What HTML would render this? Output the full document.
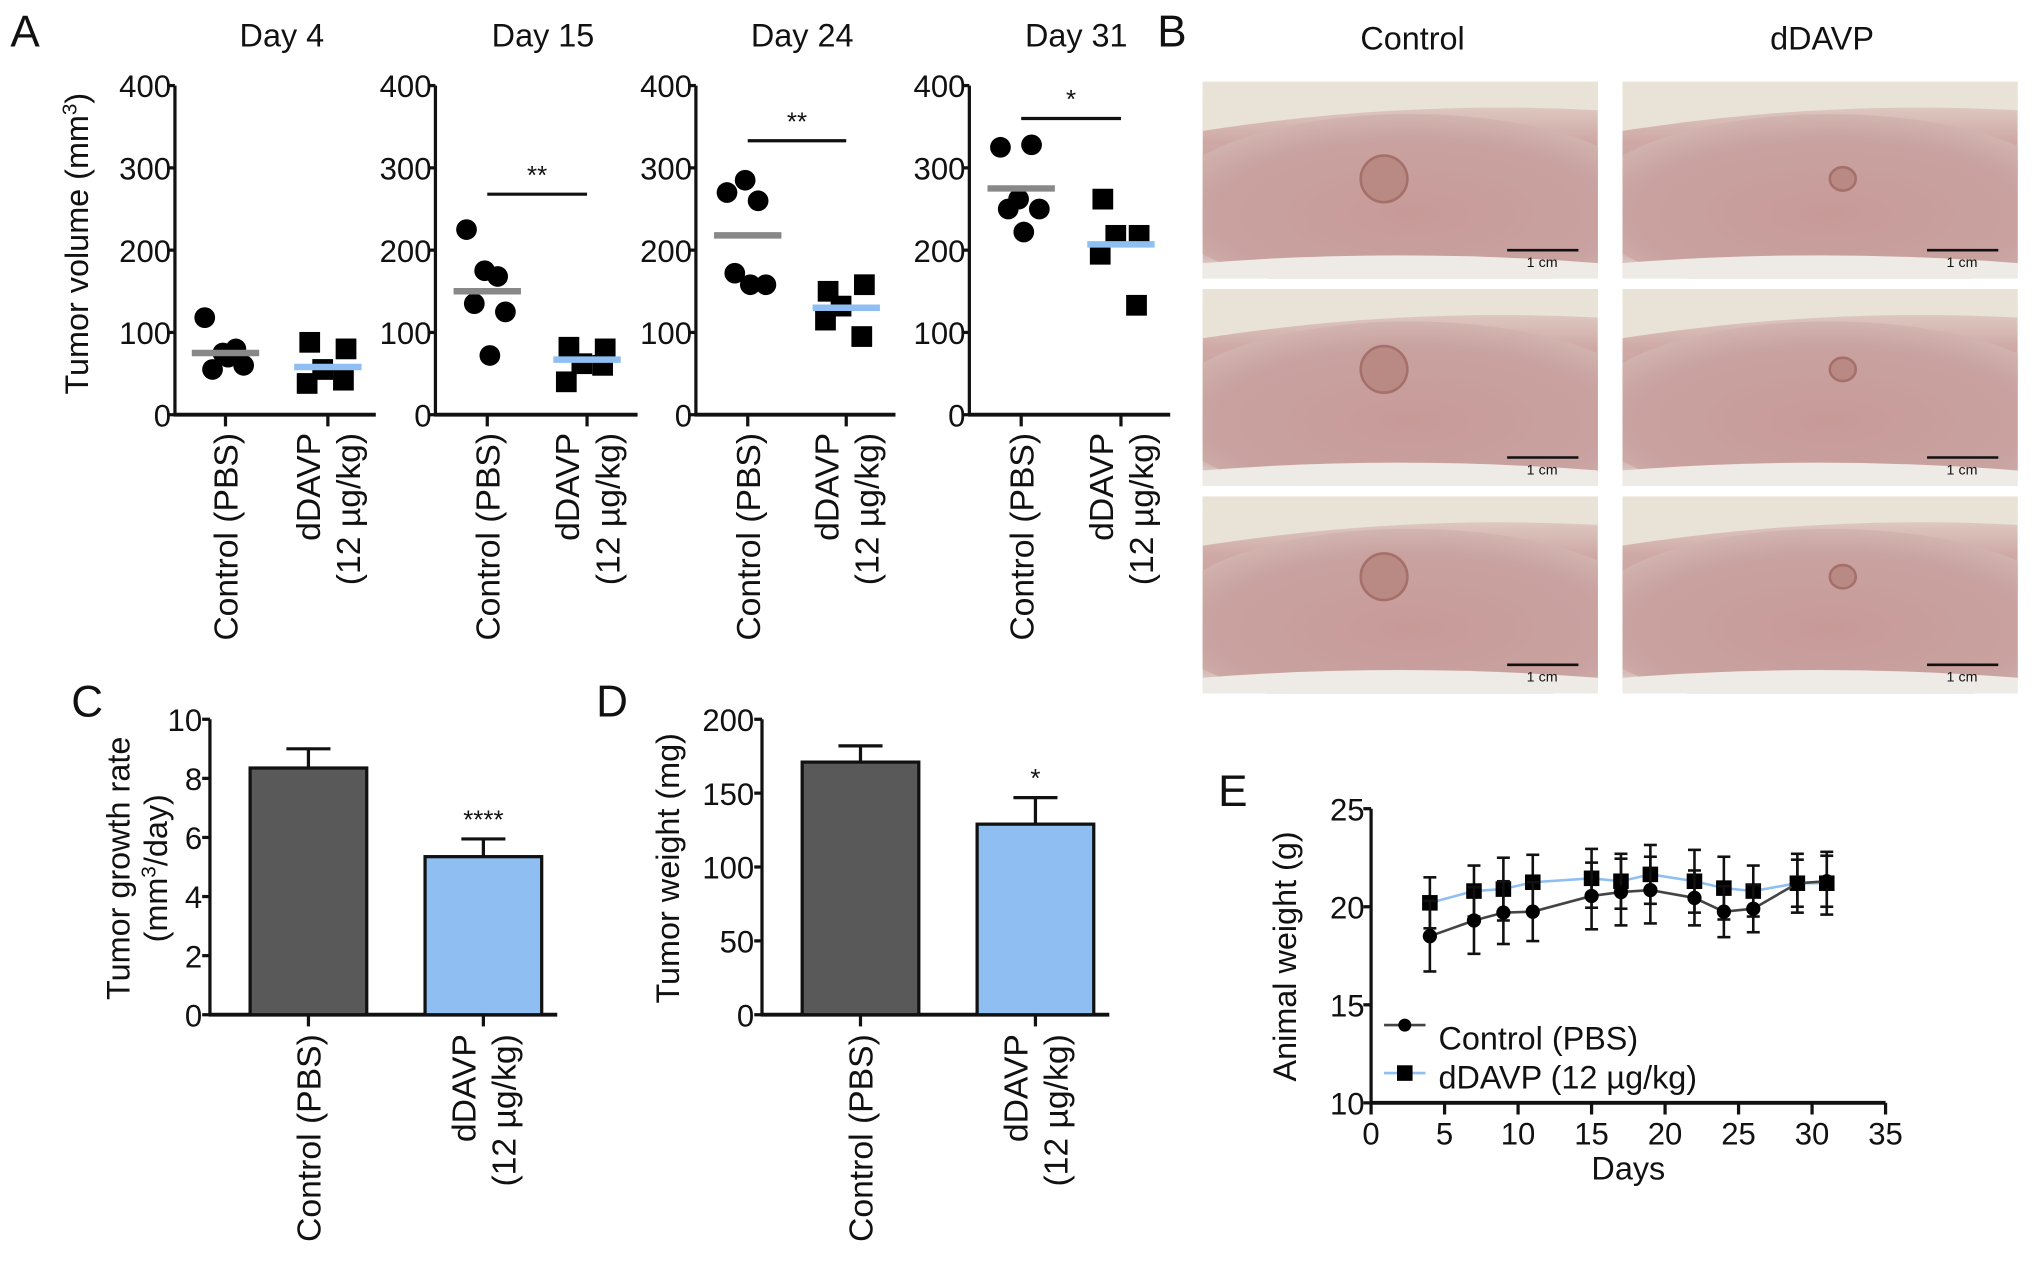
<!DOCTYPE html>
<html><head><meta charset="utf-8"><style>
html,body{margin:0;padding:0;background:#fff}
svg{display:block}
text{font-family:"Liberation Sans",Arial,sans-serif;fill:#111}
</style></head><body>
<svg id="fig" width="2032" height="1261" viewBox="0 0 1568 973" xmlns="http://www.w3.org/2000/svg">
<defs>
<radialGradient id="skin" cx="0.5" cy="0.55" r="0.7">
<stop offset="0" stop-color="#c79a98"/><stop offset="0.6" stop-color="#c9a3a1"/><stop offset="1" stop-color="#ddc9c0"/>
</radialGradient>
<linearGradient id="bed" x1="0" y1="0" x2="0" y2="1">
<stop offset="0" stop-color="#e8e0d4"/><stop offset="0.3" stop-color="#cfa9a5"/><stop offset="0.8" stop-color="#c49593"/><stop offset="1" stop-color="#e9e4df"/>
</linearGradient>
</defs>
<g id="root"></g>
</svg>
<script>
// ---- Panel A data ----
const dayTitles = ["Day 4","Day 15","Day 24","Day 31"];
const groups = ["Control (PBS)","dDAVP (12 µg/kg)"];
const ctrlVals = [[118,80,75,55,60,70],[225,168,175,135,125,72],[270,260,285,172,158,158],[325,328,262,250,250,222]];
const ddavpVals = [[88,80,55,38,42],[82,80,62,40,60],[150,158,132,115,95],[262,218,218,195,133]];
const ctrlMeans = [75,150,218,275];
const ddavpMeans = [58,67,130,207];
const sigLabels = ["","**","**","*"];
const sigLevels = [0,268,333,360];
const aTicks = [0,100,200,300,400];
// ---- Panel C data ----
const cCats = ["Control (PBS)","dDAVP (12 µg/kg)"];
const cVals = [8.35,5.35];
const cErr = [0.65,0.6];
const cTicks = [0,2,4,6,8,10];
// ---- Panel D data ----
const dVals = [171,129];
const dErr = [11,18];
const dTicks = [0,50,100,150,200];
// ---- Panel E data ----
const eDays = [4,7,9,11,15,17,19,22,24,26,29,31];
const eCtrl = [18.5,19.3,19.7,19.75,20.55,20.75,20.85,20.45,19.75,19.9,21.2,21.3];
const eCtrlErr = [1.8,1.7,1.6,1.5,1.7,1.7,1.7,1.4,1.3,1.2,1.2,1.3];
const eDd = [20.2,20.8,20.9,21.25,21.45,21.3,21.65,21.3,20.95,20.8,21.2,21.2];
const eDdErr = [1.3,1.3,1.6,1.4,1.5,1.4,1.5,1.6,1.6,1.3,1.5,1.6];
const eXTicks = [0,5,10,15,20,25,30,35];
const eYTicks = [10,15,20,25];

const NS="http://www.w3.org/2000/svg";
const root=document.getElementById('root');
const defs=document.querySelector('defs');
function el(tag,attrs,parent,txt){const e=document.createElementNS(NS,tag);for(const k in attrs)e.setAttribute(k,attrs[k]);if(txt!==undefined)e.textContent=txt;(parent||root).appendChild(e);return e;}
function line(x1,y1,x2,y2,st,w,p){return el('line',{x1,y1,x2,y2,stroke:st||'#111','stroke-width':w||2.5},p);}
const TF=24;

[["A",8,36],["B",893,36],["C",55,553],["D",460,553],["E",940,622]].forEach(([t,x,y])=>{
 const e=el('text',{x,y,'font-size':34},root,t);
 
 
});

function rotLabel(g,x,ytop,lines,fs){
 const n=lines.length;
 lines.forEach((s,i)=>{
  const lx=x+(i-(n-1)/2)*31+fs*0.36;
  const t=el('text',{x:0,y:0,'font-size':fs,'text-anchor':'end',transform:`translate(${lx},${ytop}) rotate(-90)`},g,s);
  
  
 });
}

// ---- Panel A ----
const aAxisX=[135,336,537,748], aRight=[290,492,691,903];
const aCatX=[[174,253],[376,453],[577,653],[788,865]];
const aY0=320,aY1=66;
const ay=v=>aY0-(v/400)*(aY0-aY1);
const jit=[-16,8,-2,-10,14,2];
const jitD=[-14,14,-4,-16,12];
for(let p=0;p<4;p++){
 const g=el('g',{},root);  
 const t=el('text',{x:(aAxisX[p]+aRight[p])/2+5,y:36,'font-size':25,'text-anchor':'middle'},g,dayTitles[p]);
  
 line(aAxisX[p],aY1,aAxisX[p],aY0+1,'#111',2.5,g);
 line(aAxisX[p]-1,aY0,aRight[p],aY0,'#111',3,g);
 aTicks.forEach(v=>{line(aAxisX[p]-6,ay(v),aAxisX[p],ay(v),'#111',2.5,g);
  const tl=el('text',{x:aAxisX[p]-3,y:ay(v)+9,'font-size':TF,'text-anchor':'end'},g,v);
   });
 aCatX[p].forEach(x=>line(x,aY0,x,aY0+9,'#111',2.5,g));
 ctrlVals[p].forEach((v,i)=>{const c=el('circle',{cx:aCatX[p][0]+jit[i],cy:ay(v),r:8,fill:'#000'},g);
   });
 ddavpVals[p].forEach((v,i)=>{const r=el('rect',{x:aCatX[p][1]+jitD[i]-8,y:ay(v)-8,width:16,height:16,fill:'#000'},g);
   });
 const m1=line(aCatX[p][0]-26,ay(ctrlMeans[p]),aCatX[p][0]+26,ay(ctrlMeans[p]),'#888',5,g);
  
 const m2=line(aCatX[p][1]-26,ay(ddavpMeans[p]),aCatX[p][1]+26,ay(ddavpMeans[p]),'#8fbff2',5,g);
  
 if(sigLabels[p]){const s=line(aCatX[p][0],ay(sigLevels[p]),aCatX[p][1],ay(sigLevels[p]),'#111',2.5,g);
   
  const st=el('text',{x:(aCatX[p][0]+aCatX[p][1])/2,y:ay(sigLevels[p])-8,'font-size':20,'text-anchor':'middle'},g,sigLabels[p]);
   }
 rotLabel(g,aCatX[p][0],334,["Control (PBS)"],26);
 rotLabel(g,aCatX[p][1],334,["dDAVP","(12 µg/kg)"],26);
}
const ayt=el('text',{x:0,y:0,'font-size':25,'text-anchor':'middle',transform:'translate(68,188) rotate(-90)'},root);
 
ayt.innerHTML='Tumor volume (mm<tspan dy="-9" font-size="16">3</tspan><tspan dy="9">)</tspan>';

// ---- Panel B photos ----
const pcols=[928,1252], prows=[63,223,383];
const pb=el('g',{},root);  
[["Control",1090],["dDAVP",1406]].forEach(([t,x])=>{const e=el('text',{x,y:38,'font-size':25,'text-anchor':'middle'},pb,t);
  });
let ci_=0;
pcols.forEach((x,ci)=>prows.forEach((y,ri)=>{
 const id='clip'+(ci_++);
 const cp=el('clipPath',{id},defs); el('rect',{x,y,width:305,height:152},cp);
 const g=el('g',{'clip-path':`url(#${id})`},pb);  
 el('rect',{x,y,width:305,height:152,fill:'url(#bed)'},g);
 el('ellipse',{cx:x+160,cy:y+95,rx:190,ry:70,fill:'url(#skin)'},g);
 el('path',{d:`M${x} ${y} h305 v22 q-150 -8 -305 16z`,fill:'#e9e2d6'},g);
 el('ellipse',{cx:x+(ci?170:140),cy:y+(ri?62:75),rx:ci?10:18,ry:ci?9:18,fill:'#b98a84',stroke:'#a57069','stroke-width':2},g);
 el('path',{d:`M${x} ${y+140} q150 -12 305 0 v12 h-305z`,fill:'#eeeae6'},g);
 line(x+235,y+130,x+290,y+130,'#111',2,g);
 const st=el('text',{x:x+262,y:y+143,'font-size':11,'text-anchor':'middle'},g,'1 cm');
  
}));

// ---- bar panel helper ----
function barPanel(name,axX,ticks,vals,errs,sig){
 const g=el('g',{},root);  
 const y0=783,y1=555,max=ticks[ticks.length-1];
 const yy=v=>y0-(v/max)*(y0-y1);
 line(axX,y1,axX,y0+1,'#111',2.5,g); line(axX-1,y0,axX+268,y0,'#111',3,g);
 ticks.forEach(v=>{line(axX-6,yy(v),axX,yy(v),'#111',2.5,g);
  const t=el('text',{x:axX-6,y:yy(v)+9,'font-size':TF,'text-anchor':'end'},g,v);
   });
 const cx=[axX+76,axX+211],fills=['#595959','#8fbff2'];
 vals.forEach((v,i)=>{
  line(cx[i],yy(v),cx[i],yy(v+errs[i]),'#111',2.5,g);
  line(cx[i]-17,yy(v+errs[i]),cx[i]+17,yy(v+errs[i]),'#111',2.5,g);
  const r=el('rect',{x:cx[i]-45,y:yy(v),width:90,height:y0-yy(v),fill:fills[i],stroke:'#111','stroke-width':2.5},g);
   
  line(cx[i],y0,cx[i],y0+9,'#111',2.5,g);
 });
 const st=el('text',{x:cx[1],y:yy(vals[1]+errs[1])-8,'font-size':20,'text-anchor':'middle'},g,sig);
  
 rotLabel(g,cx[0],798,["Control (PBS)"],26);
 rotLabel(g,cx[1],798,["dDAVP","(12 µg/kg)"],26);
 return g;
}
const gc=barPanel('panel-c',162,cTicks,cVals,cErr,'****');
const ct=el('text',{x:0,y:0,'font-size':25,'text-anchor':'middle',transform:'translate(100,670) rotate(-90)'},gc);
 
ct.innerHTML='<tspan x="0" dy="0">Tumor growth rate</tspan><tspan x="0" dy="29">(mm<tspan dy="-9" font-size="16">3</tspan><tspan dy="9">/day)</tspan></tspan>';
const gd=barPanel('panel-d',588,dTicks,dVals,dErr,'*');
const dt=el('text',{x:0,y:0,'font-size':25,'text-anchor':'middle',transform:'translate(524,670) rotate(-90)'},gd,'Tumor weight (mg)');
 

// ---- Panel E ----
const ge=el('g',{},root);  
const ex0=1058,ex1=1455,ey0=851,ey1=624;
const ex=v=>ex0+(v/35)*(ex1-ex0), ey=v=>ey0-((v-10)/15)*(ey0-ey1);
line(ex0,ey1,ex0,ey0+1,'#111',2.5,ge); line(ex0-1,ey0,ex1,ey0,'#111',3,ge);
eXTicks.forEach(v=>{line(ex(v),ey0,ex(v),ey0+9,'#111',2.5,ge);
 const t=el('text',{x:ex(v),y:ey0+32,'font-size':TF,'text-anchor':'middle'},ge,v);
  });
eYTicks.forEach(v=>{line(ex0-6,ey(v),ex0,ey(v),'#111',2.5,ge);
 const t=el('text',{x:ex0-5,y:ey(v)+9,'font-size':TF,'text-anchor':'end'},ge,v);
  });
const xt=el('text',{x:ex(17.5),y:910,'font-size':25,'text-anchor':'middle'},ge,'Days');
 
const yt=el('text',{x:0,y:0,'font-size':25,'text-anchor':'middle',transform:'translate(1000,738) rotate(-90)'},ge,'Animal weight (g)');
 
function series(vals,errs,color,marker,nm){
 const sg=el('g',{},ge);  
 const pl=el('polyline',{points:eDays.map((d,i)=>ex(d)+','+ey(vals[i])).join(' '),fill:'none',stroke:color,'stroke-width':2},sg);
  
 eDays.forEach((d,i)=>{const x=ex(d);
  line(x,ey(vals[i]-errs[i]),x,ey(vals[i]+errs[i]),'#111',2,sg);
  line(x-5,ey(vals[i]-errs[i]),x+5,ey(vals[i]-errs[i]),'#111',2,sg);
  line(x-5,ey(vals[i]+errs[i]),x+5,ey(vals[i]+errs[i]),'#111',2,sg);
  const m=marker==='c'?el('circle',{cx:x,cy:ey(vals[i]),r:5.5,fill:'#000'},sg):el('rect',{x:x-6,y:ey(vals[i])-6,width:12,height:12,fill:'#000'},sg);
   });
}
series(eDd,eDdErr,'#8fbff2','s','ddavp-series');
series(eCtrl,eCtrlErr,'#444','c','control-series');
const lg=el('g',{},ge);  
line(1068,791,1100,791,'#444',2,lg); el('circle',{cx:1084,cy:791,r:5,fill:'#000'},lg);
const l1=el('text',{x:1110,y:810,'font-size':25},lg,'Control (PBS)');  
line(1068,828,1100,828,'#8fbff2',2,lg); el('rect',{x:1078,y:822,width:12,height:12,fill:'#000'},lg);
const l2=el('text',{x:1110,y:840,'font-size':25},lg,'dDAVP (12 µg/kg)');  
</script>
</body></html>
